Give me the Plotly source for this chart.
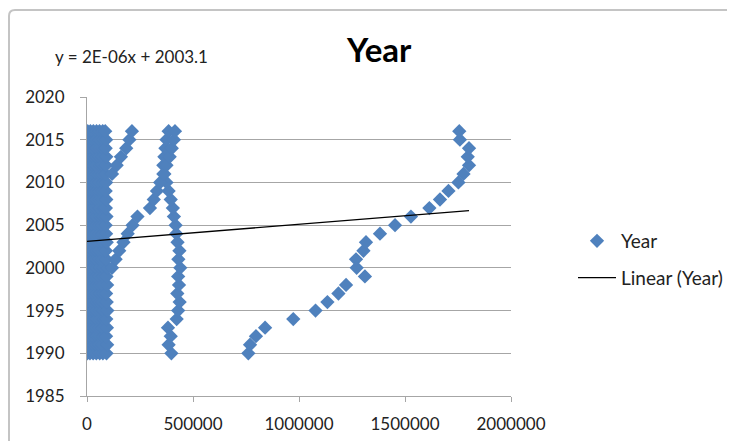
import plotly.graph_objects as go

# ---------------- data ----------------
years = list(range(1990, 2017))  # 27 years

# dense cluster near zero
cluster_a = [1000, 2000, 1000, 3000, 2000, 1000, 2000, 3000, 1000, 2000, 2000, 1000, 3000, 2000, 1000, 2000, 3000, 2000, 1000, 2000, 1000, 3000, 2000, 2000, 1000, 2000, 3000]
cluster_b = [14000, 16000, 15000, 13000, 17000, 15000, 14000, 16000, 15000, 17000, 14000, 15000, 16000, 13000, 15000, 17000, 16000, 14000, 15000, 16000, 17000, 15000, 14000, 16000, 15000, 17000, 16000]
cluster_c = [29000, 31000, 30000, 28000, 32000, 30000, 29000, 31000, 33000, 30000, 28000, 31000, 29000, 30000, 32000, 30000, 28000, 31000, 29000, 30000, 32000, 31000, 29000, 30000, 28000, 31000, 30000]
cluster_d = [44000, 46000, 45000, 43000, 47000, 45000, 44000, 46000, 45000, 43000, 46000, 44000, 45000, 47000, 44000, 46000, 45000, 43000, 44000, 46000, 45000, 47000, 44000, 45000, 46000, 44000, 45000]
cluster_e = [60000, 58000, 61000, 59000, 62000, 60000, 58000, 61000, 60000, 59000, 62000, 60000, 58000, 61000, 59000, 60000, 62000, 58000, 60000, 61000, 59000, 60000, 62000, 58000, 61000, 60000, 59000]
cluster_f = [75000, 73000, 76000, 74000, 77000, 75000, 73000, 76000, 74000, 75000, 77000, 73000, 75000, 76000, 74000, 72000, 75000, 77000, 74000, 73000, 76000, 75000, 74000, 73000, 75000, 76000, 74000]
cluster_g = [92000, 95000, 90000, 94000, 91000, 96000, 93000, 90000, 95000, 92000, 97000, 91000, 89000, 93000, 90000, 88000, 92000, 89000, 91000, 88000, 90000, 87000, 89000, 91000, 88000, 90000, 86000]

# branch leaving the cluster 2011-2016
branch_top_years = [2011, 2012, 2013, 2014, 2015, 2016]
branch_top = [118000, 140000, 160000, 185000, 200000, 212000]

# branch 2000-2006
branch_mid_years = [2000, 2001, 2002, 2003, 2004, 2005, 2006]
branch_mid = [118000, 135000, 152000, 172000, 192000, 215000, 238000]

# column near 400 000 (1990-2016)
column_a = [398000, 385000, 395000, 382000, 423000, 430000, 437000, 426000, 434000, 430000, 440000, 431000, 436000, 427000, 421000, 418000, 410000, 405000, 395000, 385000, 375000, 365000, 360000, 365000, 370000, 375000, 385000]

# series rising from 2007 to 2016
column_b_years = [2007, 2008, 2009, 2010, 2011, 2012, 2013, 2014, 2015, 2016]
column_b = [297000, 315000, 330000, 345000, 360000, 375000, 390000, 400000, 410000, 415000]

# large series 1990-2016
large = [761000, 769000, 797000, 840000, 973000, 1078000, 1134000, 1186000, 1222000, 1311000, 1272000, 1269000, 1304000, 1316000, 1382000, 1453000, 1528000, 1615000, 1665000, 1705000, 1752000, 1776000, 1802000, 1796000, 1802000, 1759000, 1756000]

# trendline as displayed
trend_slope = 2e-06
trend_intercept = 2003.1
equation_text = "y = 2E-06x + 2003.1"
title_text = "Year"
x_ticks = [0, 500000, 1000000, 1500000, 2000000]
y_ticks = [1985, 1990, 1995, 2000, 2005, 2010, 2015, 2020]

# ---------------- assemble ----------------
xs, ys = [], []
for arr in [cluster_a, cluster_b, cluster_c, cluster_d, cluster_e, cluster_f, cluster_g, column_a, large]:
    xs += arr
    ys += years
xs += branch_top; ys += branch_top_years
xs += branch_mid; ys += branch_mid_years
xs += column_b; ys += column_b_years

xmax = max(xs)
trend_x = [0, xmax]
trend_y = [trend_intercept + trend_slope * v for v in trend_x]

FONT = "Lato"
BLUE = "#4f81bd"
GRID = "#a6a6a6"
TXT = "#222222"

fig = go.Figure()
fig.add_trace(go.Scatter(
    x=xs, y=ys, mode="markers", name="Year",
    marker=dict(symbol="diamond", size=11, color=BLUE, line=dict(width=0)),
    legendgroup="a",
))
fig.add_trace(go.Scatter(
    x=trend_x, y=trend_y, mode="lines", name="Linear (Year)",
    line=dict(color="black", width=1.3), legendgroup="b",
))

# page body has an 8px offset; screen positions of plot area: x 87-511, y 97-396
OFF = 8
SL, SR, ST, SB = 87, 511, 97, 396
W, H = 735, 441
L = SL - OFF
T = ST - OFF
PW = SR - SL
PH = SB - ST
R = W - L - PW
B = H - T - PH

def px(xs_):
    return (xs_ - SL) / PW

def py(ys_):
    return (SB - ys_) / PH

# frame: left and top edges with a rounded corner
fx0, fy0, fr = px(9), py(10), 6
frame_path = (f"M {fx0},{py(480)} L {fx0},{py(10 + fr)} "
              f"Q {fx0},{fy0} {px(9 + fr)},{fy0} L {px(760)},{fy0}")

fig.update_layout(
    width=W, height=H,
    margin=dict(l=L, r=R, t=T, b=B, pad=0),
    paper_bgcolor="white", plot_bgcolor="white",
    font=dict(family=FONT, size=17, color=TXT),
    showlegend=True,
    legend=dict(x=px(573), y=py(222), xanchor="left", yanchor="top",
                font=dict(size=19, color=TXT), traceorder="grouped",
                tracegroupgap=9, itemwidth=38, bgcolor="rgba(0,0,0,0)"),
    xaxis=dict(range=[0, 2000000], tickvals=x_ticks, ticktext=[str(v) for v in x_ticks],
               showgrid=False, zeroline=False, showline=True, linecolor=GRID, linewidth=1,
               ticks="outside", ticklen=5, tickcolor=GRID, tickfont=dict(size=17),
               ticklabelstandoff=8, automargin=False),
    yaxis=dict(range=[1985, 2020], tickvals=y_ticks, showgrid=True, gridcolor=GRID, gridwidth=1,
               zeroline=False, showline=True, linecolor=GRID, linewidth=1,
               ticks="outside", ticklen=6, tickcolor=GRID, tickfont=dict(size=17),
               ticklabelstandoff=12, automargin=False),
    annotations=[
        dict(text=title_text, xref="paper", yref="paper", x=px(379), y=py(49),
             xanchor="center", yanchor="middle", showarrow=False,
             font=dict(family=FONT, size=33, color="black", weight="bold")),
        dict(text=equation_text, xref="paper", yref="paper", x=px(131), y=py(56),
             xanchor="center", yanchor="middle", showarrow=False,
             font=dict(family=FONT, size=17, color=TXT)),
    ],
    shapes=[
        dict(type="path", xref="paper", yref="paper", path=frame_path,
             line=dict(color="#c4c4c4", width=2), layer="below"),
    ],
)

fig.write_html("out.html")
